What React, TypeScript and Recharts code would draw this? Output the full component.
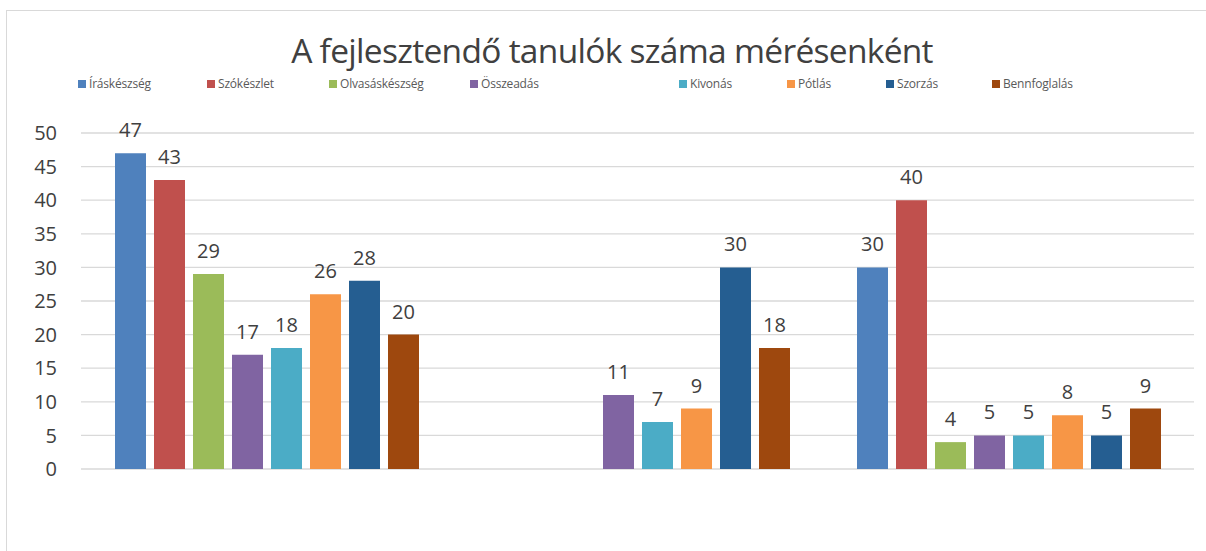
import React from 'react';
import { BarChart, Bar, XAxis, YAxis, CartesianGrid, LabelList } from 'recharts';

const categories = ['1. mérés', '2. mérés', '3. mérés'];
const seriesNames = ['Íráskészség', 'Szókészlet', 'Olvasáskészség', 'Összeadás', 'Kivonás', 'Pótlás', 'Szorzás', 'Bennfoglalás'];
const iraskeszseg = [47, null, 30];
const szokeszlet = [43, null, 40];
const olvasaskeszseg = [29, null, 4];
const osszeadas = [17, 11, 5];
const kivonas = [18, 7, 5];
const potlas = [26, 9, 8];
const szorzas = [28, 30, 5];
const bennfoglalas = [20, 18, 9];
const yTicks = [0, 5, 10, 15, 20, 25, 30, 35, 40, 45, 50];

const seriesValues = [iraskeszseg, szokeszlet, olvasaskeszseg, osszeadas, kivonas, potlas, szorzas, bennfoglalas];
const colors = ['#4F81BD', '#C0504D', '#9BBB59', '#8064A2', '#4BACC6', '#F79646', '#255E91', '#9E480E'];
const legendX = [78, 207, 329, 470, 679, 787, 886, 992];

const data = categories.map((c, i) => {
  const row: Record<string, any> = { name: c };
  seriesNames.forEach((s, k) => { row[s] = seriesValues[k][i]; });
  return row;
});

const FONT = '"Open Sans", sans-serif';

const LegendBlock = () => (
  <div style={{ position: 'absolute', left: 0, top: 75, width: 1206, height: 20 }}>
    {seriesNames.map((s, i) => (
      <div key={s} style={{ position: 'absolute', left: legendX[i], top: 0, display: 'flex', alignItems: 'center', fontFamily: FONT, fontSize: 12, letterSpacing: -0.2, color: '#595959', whiteSpace: 'nowrap' }}>
        <span style={{ display: 'inline-block', width: 8, height: 8, background: colors[i], marginRight: 3 }} />
        {s}
      </div>
    ))}
  </div>
);

export default function App() {
  return (
    <div style={{ position: 'absolute', left: 0, top: 0, width: 1206, height: 551, background: '#fff', overflow: 'hidden' }}>
      <div style={{ position: 'absolute', left: 6, top: 10, width: 1300, height: 700, border: '1.5px solid #D9D9D9' }} />
      <div style={{ position: 'absolute', left: 0, top: 27, width: 1224, textAlign: 'center', fontFamily: FONT, fontSize: 33.5, color: '#404040', letterSpacing: -0.7 }}>
        A fejlesztendő tanulók száma mérésenként
      </div>
      <LegendBlock />
      <div style={{ position: 'absolute', left: 0, top: 0 }}>
        <BarChart width={1206} height={551} data={data} margin={{ top: 133, right: 12, bottom: 82, left: 0 }} barSize={31} barGap={8}>
          <CartesianGrid vertical={false} stroke="#D9D9D9" strokeWidth={1.3} />
          <XAxis dataKey="name" tick={false} tickLine={false} axisLine={{ stroke: '#D9D9D9', strokeWidth: 2 }} height={0} />
          <YAxis domain={[0, 50]} ticks={yTicks} interval={0} width={81} axisLine={false} tickLine={false} tickSize={6} tickMargin={18}
            tick={{ fontFamily: FONT, fontSize: 20, fill: '#404040' }} />
          {seriesNames.map((s, i) => (
            <Bar key={s} dataKey={s} fill={colors[i]} isAnimationActive={false}>
              <LabelList dataKey={s} position="top" offset={16} style={{ fontFamily: FONT, fontSize: 20, fill: '#404040' }} />
            </Bar>
          ))}
        </BarChart>
      </div>
    </div>
  );
}
